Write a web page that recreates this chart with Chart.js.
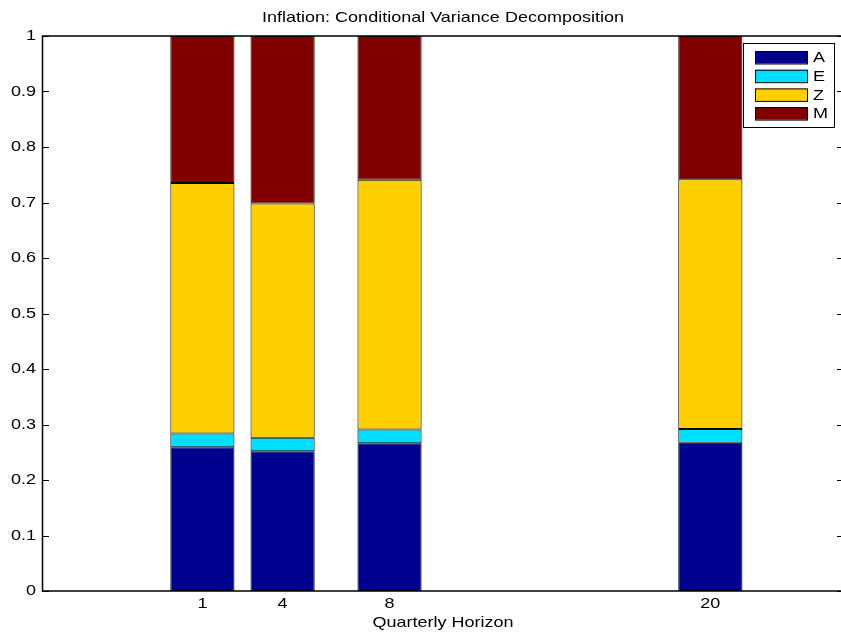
<!DOCTYPE html>
<html>
<head>
<meta charset="utf-8">
<script src="https://cdn.jsdelivr.net/npm/chart.js@4/dist/chart.umd.min.js"></script>
<style>
  html, body { margin: 0; padding: 0; overflow: hidden; background: #fff; }
  #wrap { width: 844px; height: 639px; }
</style>
</head>
<body>
<div id="wrap"><canvas id="c" width="844" height="639"></canvas></div>
<script>
// Forecast horizons (quarters) and the variance share of each shock
const horizons = [1, 4, 8, 20];
const shareA = [0.259, 0.252, 0.266, 0.267];
const shareE = [0.025, 0.024, 0.025, 0.025];
const shareZ = [0.451, 0.422, 0.450, 0.450];
const shareM = [0.265, 0.302, 0.259, 0.258];
const shockNames = ['A', 'E', 'Z', 'M'];
const shockColors = ['#00008F', '#00DFFF', '#FFCF00', '#800000'];
const yTickValues = [0, 0.1, 0.2, 0.3, 0.4, 0.5, 0.6, 0.7, 0.8, 0.9, 1];
const titleText = 'Inflation: Conditional Variance Decomposition';
const xTitleText = 'Quarterly Horizon';

const FONT = "15px 'Liberation Sans', Arial, Helvetica, sans-serif";
const TEXT_STRETCH = 1.2;   // wide Helvetica look
const seriesValues = [shareA, shareE, shareZ, shareM];

const datasets = seriesValues.map((vals, i) => ({
  label: shockNames[i],
  data: horizons.map((h, j) => ({ x: h, y: vals[j] })),
  backgroundColor: shockColors[i],
  borderColor: '#000',
  borderWidth: 1,
  borderSkipped: false,
  categoryPercentage: 1.0,
  barPercentage: 0.8
}));

function drawText(ctx, text, x, y, align) {
  ctx.save();
  ctx.translate(x, y);
  ctx.scale(TEXT_STRETCH, 1);
  ctx.font = FONT;
  ctx.fillStyle = '#000';
  ctx.textAlign = align;
  ctx.textBaseline = 'middle';
  ctx.fillText(text, 0, 0);
  ctx.restore();
}

// Box frame, inward tick marks, tick labels and titles
const frameAndTicks = {
  id: 'frameAndTicks',
  beforeDatasetsDraw(chart) {
    const { ctx, chartArea: a, scales } = chart;
    const tl = 7;
    ctx.save();
    ctx.strokeStyle = '#000';
    ctx.lineWidth = 1;
    ctx.beginPath();
    scales.y.ticks.forEach(t => {
      const py = Math.round(scales.y.getPixelForValue(t.value)) + 0.5;
      ctx.moveTo(a.left, py); ctx.lineTo(a.left + tl, py);
      ctx.moveTo(a.right, py); ctx.lineTo(a.right - tl, py);
    });
    scales.x.ticks.forEach(t => {
      const px = Math.round(scales.x.getPixelForValue(t.value)) + 0.5;
      ctx.moveTo(px, a.bottom); ctx.lineTo(px, a.bottom - tl);
      ctx.moveTo(px, a.top); ctx.lineTo(px, a.top + tl);
    });
    ctx.stroke();
    ctx.lineWidth = 1.5;
    ctx.strokeRect(a.left + 0.5, a.top, a.right - a.left - 0.5, a.bottom - a.top);
    ctx.restore();

    scales.y.ticks.forEach(t => {
      const label = String(Math.round(t.value * 10) / 10);
      drawText(ctx, label, a.left - 6, scales.y.getPixelForValue(t.value), 'right');
    });
    scales.x.ticks.forEach(t => {
      drawText(ctx, String(t.value), scales.x.getPixelForValue(t.value), a.bottom + 13, 'center');
    });
    const cx = (a.left + a.right) / 2;
    drawText(ctx, titleText, cx, 18, 'center');
    drawText(ctx, xTitleText, cx, a.bottom + 32, 'center');
  }
};

// Boxed legend in the upper right corner of the plot
const boxLegend = {
  id: 'boxLegend',
  afterDraw(chart) {
    const { ctx, chartArea: a } = chart;
    const bx = a.right - 101, by = a.top + 7, bw = 91, bh = 84;
    ctx.save();
    ctx.fillStyle = '#fff';
    ctx.fillRect(bx, by, bw, bh);
    ctx.strokeStyle = '#000';
    ctx.lineWidth = 1;
    ctx.strokeRect(bx + 0.5, by + 0.5, bw, bh);
    chart.data.datasets.forEach((ds, i) => {
      const sy = by + 8 + i * 18.7;
      ctx.fillStyle = ds.backgroundColor;
      ctx.fillRect(bx + 12, sy, 52, 12.5);
      ctx.strokeStyle = '#000';
      ctx.strokeRect(bx + 12.5, sy + 0.5, 52, 12.5);
      drawText(ctx, ds.label, bx + 70, sy + 7, 'left');
    });
    ctx.restore();
  }
};

new Chart(document.getElementById('c'), {
  type: 'bar',
  data: { datasets },
  options: {
    responsive: false,
    animation: false,
    devicePixelRatio: 1,
    layout: { padding: { top: 36, left: 0, right: 0, bottom: 0 } },
    plugins: {
      legend: { display: false },
      title: { display: false },
      tooltip: { enabled: false }
    },
    scales: {
      x: {
        type: 'linear',
        min: -5,
        max: 25,
        offset: false,
        stacked: true,
        grid: { display: false, drawTicks: false, offset: false },
        border: { display: false },
        afterBuildTicks: s => { s.ticks = horizons.map(v => ({ value: v })); },
        afterFit: s => { s.height = 48; },
        ticks: { display: false, autoSkip: false }
      },
      y: {
        min: 0,
        max: 1,
        stacked: true,
        grid: { display: false, drawTicks: false },
        border: { display: false },
        afterBuildTicks: s => { s.ticks = yTickValues.map(v => ({ value: v })); },
        afterFit: s => { s.width = 42; },
        ticks: { display: false }
      }
    }
  },
  plugins: [frameAndTicks, boxLegend]
});
</script>
</body>
</html>
